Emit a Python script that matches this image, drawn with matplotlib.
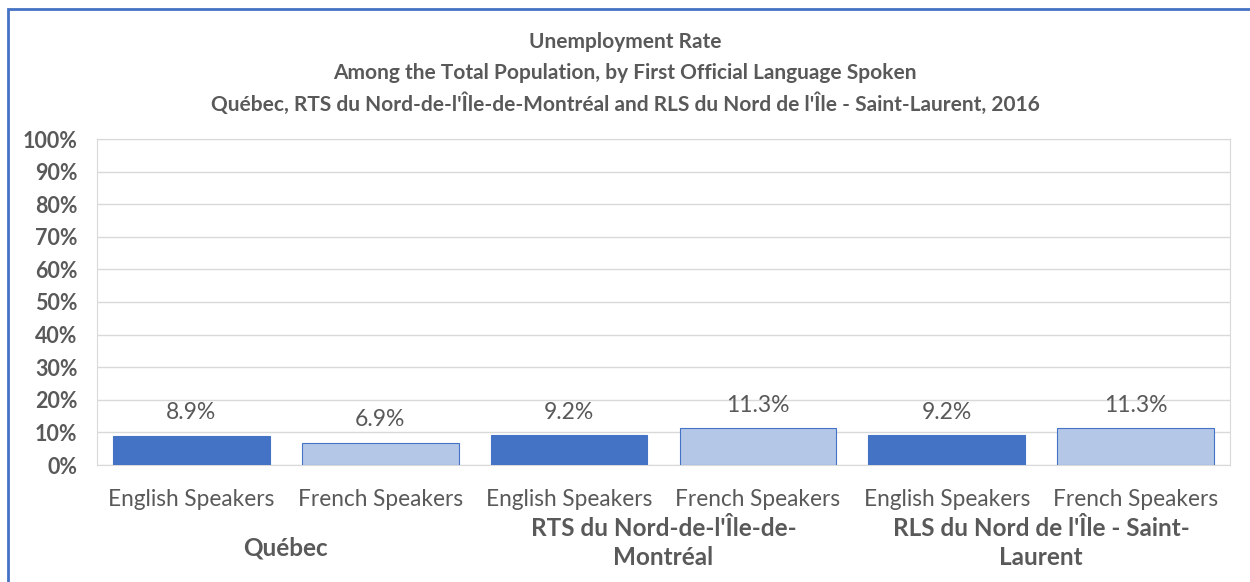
import matplotlib.pyplot as plt
from matplotlib.patches import Rectangle

plt.rcParams['font.family'] = ['Lato', 'DejaVu Sans']

title_lines = ["Unemployment Rate",
               "Among the Total Population, by First Official Language Spoken",
               "Québec, RTS du Nord-de-l'Île-de-Montréal and RLS du Nord de l'Île - Saint-Laurent, 2016"]
regions = ["Québec", "RTS du Nord-de-l'Île-de-\nMontréal", "RLS du Nord de l'Île - Saint-\nLaurent"]
languages = ["English Speakers", "French Speakers"]
rates = [8.9, 6.9, 9.2, 11.3, 9.2, 11.3]
yticks = [0, 10, 20, 30, 40, 50, 60, 70, 80, 90, 100]

dark = "#4472C4"
light = "#B4C7E7"
grey = "#595959"

W, H = 1250, 582
fig = plt.figure(figsize=(W / 100, H / 100), dpi=100)
fig.patches.append(Rectangle((8 / W, -0.1), 1.2, (H - 9) / H + 0.1, transform=fig.transFigure,
                             fill=False, edgecolor=dark, linewidth=2))

ax = fig.add_axes([97 / W, (H - 465) / H, (1230 - 97) / W, (465 - 139) / H])

x = list(range(len(rates)))
colors = [dark if i % 2 == 0 else light for i in x]
bars = ax.bar(x, rates, width=0.83, color=colors, edgecolor=dark, linewidth=0.8, zorder=3)
for b, v in zip(bars, rates):
    ax.annotate(f"{v}%", (b.get_x() + b.get_width() / 2, v), xytext=(0, 9),
                textcoords="offset points", ha="center", va="bottom", fontsize=16.5, color=grey)

ax.set_xlim(-0.5, len(rates) - 0.5)
ax.set_ylim(0, 100)
ax.set_yticks(yticks)
ax.set_yticklabels([f"{t}%" for t in yticks], fontsize=15.5, fontweight="bold", color=grey)
ax.yaxis.grid(True, color="#D9D9D9", linewidth=1, zorder=0)
ax.tick_params(length=0)
ax.tick_params(axis="y", pad=14)
for s in ax.spines.values():
    s.set_color("#D9D9D9")
ax.set_xticks(x)
ax.set_xticklabels(languages * len(regions), fontsize=16.3, color=grey)
ax.tick_params(axis="x", pad=17)

# region labels under each pair of bars (pixel rows)
for i, r in enumerate(regions):
    yc = 548 if "\n" not in r else 543
    ax.annotate(r, (2 * i + 0.5, 0), xycoords=("data", "figure fraction"),
                xytext=(0, (H - yc) * 0.72), textcoords="offset points",
                ha="center", va="center", fontsize=17.5, fontweight="bold",
                color=grey, linespacing=1.35)

for i, line in enumerate(title_lines):
    fig.text(0.5, (H - 42 - 31 * i) / H, line, ha="center", va="center", fontsize=15,
             fontweight="bold", color=grey)

fig.savefig("out.png", dpi=100)
